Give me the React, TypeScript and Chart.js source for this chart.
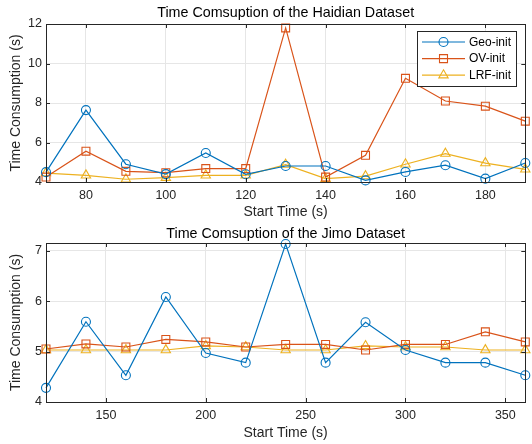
import React, { useEffect, useRef } from 'react';
import { Chart, registerables } from 'chart.js';

Chart.register(...registerables);

const FONT = '"Liberation Sans", Arial, Helvetica, sans-serif';
const seriesLabels = ['Geo-init', 'OV-init', 'LRF-init'];
const seriesColors = ['#0072BD', '#D95319', '#EDB120'];

// Haidian dataset
const haidianTitle = 'Time Comsuption of the Haidian Dataset';
const haidianTimes = [70, 80, 90, 100, 110, 120, 130, 140, 150, 160, 170, 180, 190];
const haidianGeo = [4.5, 7.64, 4.9, 4.4, 5.47, 4.39, 4.81, 4.81, 4.08, 4.51, 4.85, 4.17, 4.96];
const haidianOV = [4.25, 5.56, 4.54, 4.47, 4.68, 4.68, 11.8, 4.25, 5.35, 9.25, 8.1, 7.84, 7.08];
const haidianLRF = [4.45, 4.34, 4.14, 4.22, 4.34, 4.34, 4.88, 4.17, 4.3, 4.9, 5.44, 4.96, 4.64];
const haidianXTicks = [80, 100, 120, 140, 160, 180];
const haidianYTicks = [4, 6, 8, 10, 12];
const haidianXRange = [70, 190];
const haidianYRange = [4, 12];

// Jimo dataset
const jimoTitle = 'Time Comsuption of the Jimo Dataset';
const jimoTimes = [120, 140, 160, 180, 200, 220, 240, 260, 280, 300, 320, 340, 360];
const jimoGeo = [4.28, 5.59, 4.53, 6.08, 4.97, 4.78, 7.13, 4.78, 5.58, 5.03, 4.78, 4.78, 4.53];
const jimoOV = [5.05, 5.15, 5.09, 5.24, 5.19, 5.09, 5.14, 5.14, 5.03, 5.14, 5.14, 5.39, 5.19];
const jimoLRF = [5.03, 5.03, 5.03, 5.03, 5.11, 5.09, 5.03, 5.03, 5.11, 5.09, 5.09, 5.03, 5.03];
const jimoXTicks = [150, 200, 250, 300, 350];
const jimoYTicks = [4, 5, 6, 7];
const jimoXRange = [120, 360];
const jimoYRange = [4, 7.15];

const xTitle = 'Start Time (s)';
const yTitle = 'Time Consumption (s)';

const markerStyles = ['circle', 'rect', 'triangle'];
const markerRadii = [4.5, 5.6, 5.4];

function drawMarker(ctx: CanvasRenderingContext2D, style: string, x: number, y: number, color: string) {
  ctx.save();
  ctx.strokeStyle = color;
  ctx.lineWidth = 1.1;
  ctx.beginPath();
  if (style === 'circle') {
    ctx.arc(x, y, 4.5, 0, Math.PI * 2);
  } else if (style === 'rect') {
    ctx.rect(x - 4, y - 4, 8, 8);
  } else {
    const r = 5.4;
    ctx.moveTo(x, y - r);
    ctx.lineTo(x + r * 0.866, y + r * 0.5);
    ctx.lineTo(x - r * 0.866, y + r * 0.5);
    ctx.closePath();
  }
  ctx.stroke();
  ctx.restore();
}

const framePlugin = {
  id: 'frame',
  afterDatasetsDraw(chart: any, _args: any, opts: any) {
    const ctx = chart.ctx as CanvasRenderingContext2D;
    const { left, right, top, bottom } = chart.chartArea;
    ctx.save();
    ctx.strokeStyle = '#262626';
    ctx.lineWidth = 1;
    ctx.strokeRect(Math.round(left) + 0.5, Math.round(top) + 0.5, Math.round(right - left), Math.round(bottom - top));
    // inward ticks on all four sides
    const xs = chart.scales.x;
    const ys = chart.scales.y;
    ctx.beginPath();
    xs.ticks.forEach((t: any) => {
      const px = Math.round(xs.getPixelForValue(t.value)) + 0.5;
      ctx.moveTo(px, bottom);
      ctx.lineTo(px, bottom - 4);
      ctx.moveTo(px, top);
      ctx.lineTo(px, top + 4);
    });
    ys.ticks.forEach((t: any) => {
      const py = Math.round(ys.getPixelForValue(t.value)) + 0.5;
      ctx.moveTo(left, py);
      ctx.lineTo(left + 4, py);
      ctx.moveTo(right, py);
      ctx.lineTo(right - 4, py);
    });
    ctx.stroke();
    // title
    ctx.fillStyle = '#000000';
    ctx.font = `14.3px ${FONT}`;
    ctx.textAlign = 'center';
    ctx.textBaseline = 'middle';
    ctx.fillText(opts.title, (left + right) / 2, opts.titleY);
    // legend
    if (opts.legend) {
      const bx = 417, by = 31, bw = 99, bh = 55;
      ctx.fillStyle = '#ffffff';
      ctx.fillRect(bx, by, bw, bh);
      ctx.strokeStyle = '#262626';
      ctx.strokeRect(bx + 0.5, by + 0.5, bw, bh);
      ctx.font = `12px ${FONT}`;
      ctx.textAlign = 'left';
      ctx.textBaseline = 'middle';
      chart.data.datasets.forEach((ds: any, i: number) => {
        const y = 42 + i * 16.6;
        ctx.strokeStyle = ds.borderColor;
        ctx.lineWidth = 1.2;
        ctx.beginPath();
        ctx.moveTo(422, y);
        ctx.lineTo(465, y);
        ctx.stroke();
        drawMarker(ctx, markerStyles[i], 443.5, y, ds.borderColor);
        ctx.fillStyle = '#000000';
        ctx.fillText(ds.label, 469, y + 0.5);
      });
    }
    ctx.restore();
  },
};

function makeConfig(
  times: number[],
  series: number[][],
  xTicks: number[],
  yTicks: number[],
  xRange: number[],
  yRange: number[],
  title: string,
  legend: boolean,
  padTop: number,
  padBottom: number,
  xHeight: number,
  xTitlePad: number,
  titleY: number,
) {
  const tickFont = { family: FONT, size: 12.5 };
  const titleFont = { family: FONT, size: 14 };
  return {
    type: 'line' as const,
    data: {
      datasets: series.map((vals, i) => ({
        label: seriesLabels[i],
        data: times.map((t, j) => ({ x: t, y: vals[j] })),
        borderColor: seriesColors[i],
        backgroundColor: 'rgba(0,0,0,0)',
        borderWidth: 1.2,
        pointStyle: markerStyles[i],
        pointRadius: markerRadii[i],
        pointBorderWidth: 1.1,
        pointBorderColor: seriesColors[i],
        pointBackgroundColor: 'rgba(0,0,0,0)',
        tension: 0,
        clip: false,
      })),
    },
    options: {
      animation: false,
      responsive: false,
      layout: { padding: { top: padTop, right: 5, left: 0, bottom: padBottom } },
      plugins: {
        legend: { display: false },
        tooltip: { enabled: false },
        title: { display: false },
        frame: { title, legend, titleY },
      },
      scales: {
        x: {
          type: 'linear',
          min: xRange[0],
          max: xRange[1],
          afterBuildTicks: (s: any) => {
            s.ticks = xTicks.map((v) => ({ value: v }));
          },
          afterFit: (s: any) => {
            s.height = xHeight;
          },
          grid: { color: '#e6e6e6', drawTicks: false, lineWidth: 1 },
          border: { display: false },
          ticks: { padding: 6, color: '#262626', font: tickFont, maxRotation: 0, autoSkip: false },
          title: { display: true, text: xTitle, color: '#262626', font: titleFont, padding: { top: 0, bottom: xTitlePad } },
        },
        y: {
          type: 'linear',
          min: yRange[0],
          max: yRange[1],
          afterBuildTicks: (s: any) => {
            s.ticks = yTicks.map((v) => ({ value: v }));
          },
          afterFit: (s: any) => {
            s.width = 46;
          },
          grid: { color: '#e6e6e6', drawTicks: false, lineWidth: 1 },
          border: { display: false },
          ticks: { padding: 4, color: '#262626', font: tickFont, autoSkip: false },
          title: { display: true, text: yTitle, color: '#262626', font: titleFont, padding: { top: 7.5, bottom: 0 } },
        },
      },
    },
    plugins: [framePlugin],
  };
}

export default function App() {
  const topRef = useRef<HTMLCanvasElement>(null);
  const botRef = useRef<HTMLCanvasElement>(null);

  useEffect(() => {
    const c1 = new Chart(
      topRef.current as HTMLCanvasElement,
      makeConfig(
        haidianTimes,
        [haidianGeo, haidianOV, haidianLRF],
        haidianXTicks,
        haidianYTicks,
        haidianXRange,
        haidianYRange,
        haidianTitle,
        true,
        24,
        0,
        40,
        1,
        13.5,
      ) as any,
    );
    const c2 = new Chart(
      botRef.current as HTMLCanvasElement,
      makeConfig(
        jimoTimes,
        [jimoGeo, jimoOV, jimoLRF],
        jimoXTicks,
        jimoYTicks,
        jimoXRange,
        jimoYRange,
        jimoTitle,
        false,
        21,
        1,
        41,
        1.4,
        12,
      ) as any,
    );
    return () => {
      c1.destroy();
      c2.destroy();
    };
  }, []);

  return (
    <div style={{ position: 'absolute', left: 0, top: 0, width: 532, height: 444, background: '#ffffff' }}>
      <canvas ref={topRef} width={532} height={222} style={{ display: 'block', width: 532, height: 222 }} />
      <canvas ref={botRef} width={532} height={222} style={{ display: 'block', width: 532, height: 222 }} />
    </div>
  );
}
